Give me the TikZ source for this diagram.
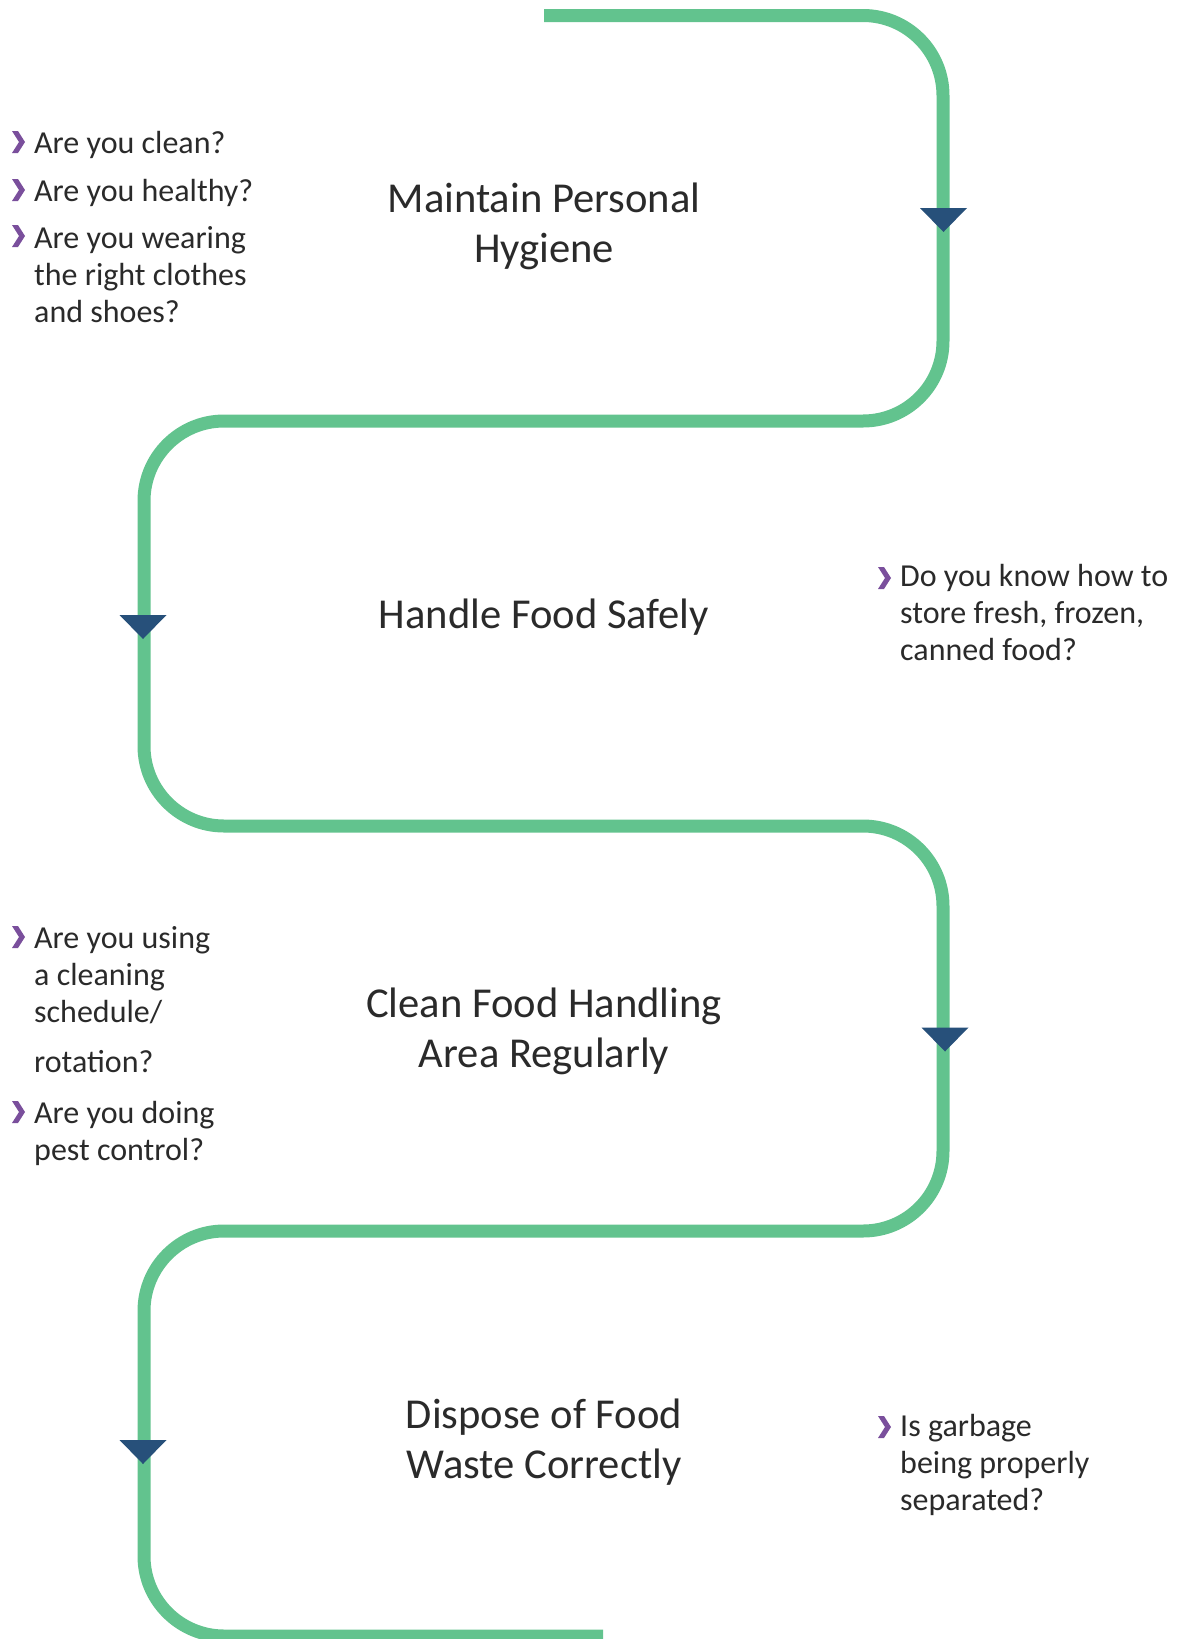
\documentclass[tikz,border=0pt]{standalone}
\usepackage{fontspec}
\setmainfont{Carlito}
\definecolor{pathgreen}{HTML}{62C38E}
\definecolor{tipnavy}{HTML}{27507A}
\definecolor{bulletpurple}{HTML}{7A4F9C}
\definecolor{textgray}{HTML}{2A2A2A}
\begin{document}
\begin{tikzpicture}[x=1pt,y=-1pt,
  flow/.style={draw=pathgreen,line width=13pt,rounded corners=80pt},
  % multi-line nodes: the base anchor sits on the last line
  heading/.style={font=\fontsize{42.6}{50}\selectfont,text=textgray,align=center,inner sep=0pt,anchor=base},
  question/.style={font=\fontsize{32}{37}\selectfont,text=textgray,align=left,inner sep=0pt,anchor=base west},
  chevron/.pic={\fill[bulletpurple] (0,0) -- (6,0) -- (13,-11) -- (6,-22) -- (0,-22) -- (7,-11) -- cycle;},
  droptip/.pic={\fill[tipnavy] (-23.5,0) -- (23.5,0) -- (0,24) -- cycle;}
]
\useasboundingbox (0,0) rectangle (1176,1639);

% turning points of the flow line
\coordinate (start)  at (544,15.5);
\coordinate (c1) at (943,15.5);
\coordinate (c2) at (943,421);
\coordinate (c3) at (144,421);
\coordinate (c4) at (144,826);
\coordinate (c5) at (943,826);
\coordinate (c6) at (943,1231);
\coordinate (c7) at (144,1231);
\coordinate (c8) at (144,1636);
\coordinate (finish) at (603,1636);

\draw[flow] (start) -- (c1) -- (c2) -- (c3) -- (c4) -- (c5) -- (c6) -- (c7) -- (c8) -- (finish);

% direction markers on the vertical runs
\pic at (943.5,208) {droptip};
\pic at (143,615) {droptip};
\pic at (945,1027.5) {droptip};
\pic at (143,1440) {droptip};

% steps
\node[heading] (hygiene) at (544,262) {Maintain Personal\\Hygiene};
\node[heading] (handle)  at (544,628) {Handle Food Safely};
\node[heading] (clean)   at (544,1067) {Clean Food Handling\\Area Regularly};
\node[heading] (dispose) at (544,1478) {Dispose of Food\\Waste Correctly};

% questions for step 1
\pic at (12,153) {chevron};
\node[question] (qclean) at (34,153) {Are you clean?};
\pic at (12,201) {chevron};
\node[question] (qhealthy) at (34,201) {Are you healthy?};
\pic at (12,247) {chevron};
\node[question] (qclothes) at (34,322) {Are you wearing\\the right clothes\\and shoes?};

% questions for step 2
\pic at (878,589) {chevron};
\node[question] (qstore) at (900,660) {Do you know how to\\store fresh, frozen,\\canned food?};

% questions for step 3
\pic at (12,948) {chevron};
\node[question] (qschedule) at (34,1072) {Are you using\\a cleaning\\schedule/\\[13pt]rotation?};
\pic at (12,1123) {chevron};
\node[question] (qpest) at (34,1160) {Are you doing\\pest control?};

% questions for step 4
\pic at (878,1438) {chevron};
\node[question] (qgarbage) at (900,1510) {Is garbage\\being properly\\separated?};
\end{tikzpicture}
\end{document}
